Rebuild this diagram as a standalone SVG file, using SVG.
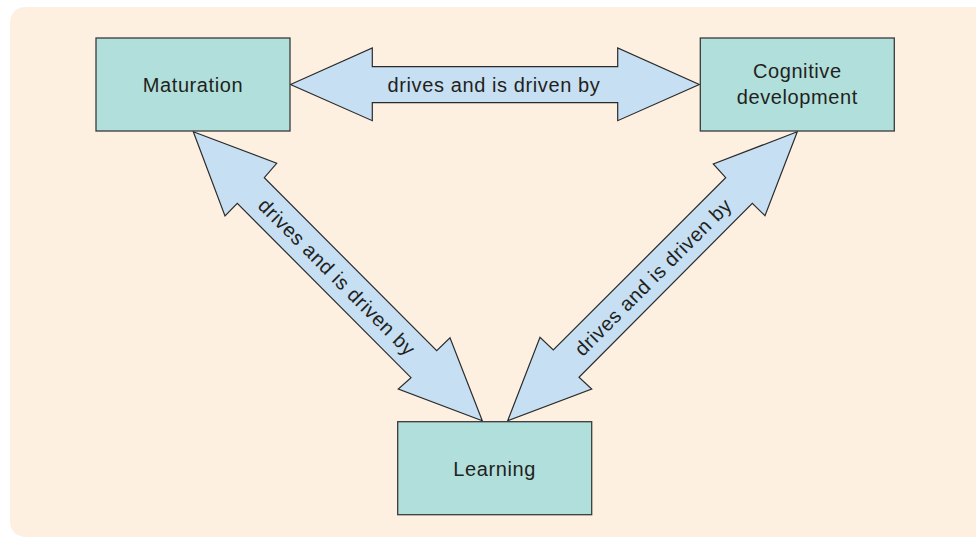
<svg xmlns="http://www.w3.org/2000/svg" width="976" height="540" viewBox="0 0 976 540">
<style>
.bg{fill:#fdf0e1;}
.box{fill:#b1dfdb;stroke:#3a3a3a;stroke-width:1.3;}
.arr{fill:#c7dff3;stroke:#2b2b2b;stroke-width:1.2;stroke-linejoin:miter;}
.t{font-family:"Liberation Sans",Arial,Helvetica,sans-serif;font-size:20px;letter-spacing:0.6px;fill:#231f20;text-anchor:middle;}
</style>
<rect class="bg" x="10" y="7" width="990" height="530" rx="15" ry="15"/>
<g id="connectors">
<g id="arrow-mat-cog">
<polygon class="arr" points="290.5,84.5 372.3,48 372.3,66.7 617.7,66.7 617.7,48 699.3,84.5 617.7,120.7 617.7,102.7 372.3,102.7 372.3,120.7"/>
<text class="t" x="494" y="91.7">drives and is driven by</text>
</g>
<g id="arrow-mat-learn">
<polygon class="arr" points="193.3,131.7 276.7,163.3 264.3,177.7 436.7,350.7 450,337.7 482.3,420.7 398.3,389 411,377.7 237.3,203.3 225,216"/>
<text class="t" transform="translate(337,277) rotate(45)" x="0" y="7">drives and is driven by</text>
</g>
<g id="arrow-cog-learn">
<polygon class="arr" points="797.3,131.7 765,215.7 752.3,203.3 579,377.3 591.7,389 507.7,420.7 540,337.3 553.3,350 725.7,177.7 713.3,164"/>
<text class="t" transform="translate(653,277) rotate(-45)" x="0" y="7">drives and is driven by</text>
</g>
</g>
<g id="node-maturation">
<rect class="box" x="96" y="38" width="194" height="93"/>
<text class="t" x="193" y="91.7">Maturation</text>
</g>
<g id="node-cognitive">
<rect class="box" x="700.3" y="38" width="194" height="93"/>
<text class="t" x="797.3" y="78.3">Cognitive</text>
<text class="t" x="797.3" y="104.3">development</text>
</g>
<g id="node-learning">
<rect class="box" x="397.7" y="421.7" width="194" height="93"/>
<text class="t" x="494.7" y="475.7">Learning</text>
</g>
</svg>
